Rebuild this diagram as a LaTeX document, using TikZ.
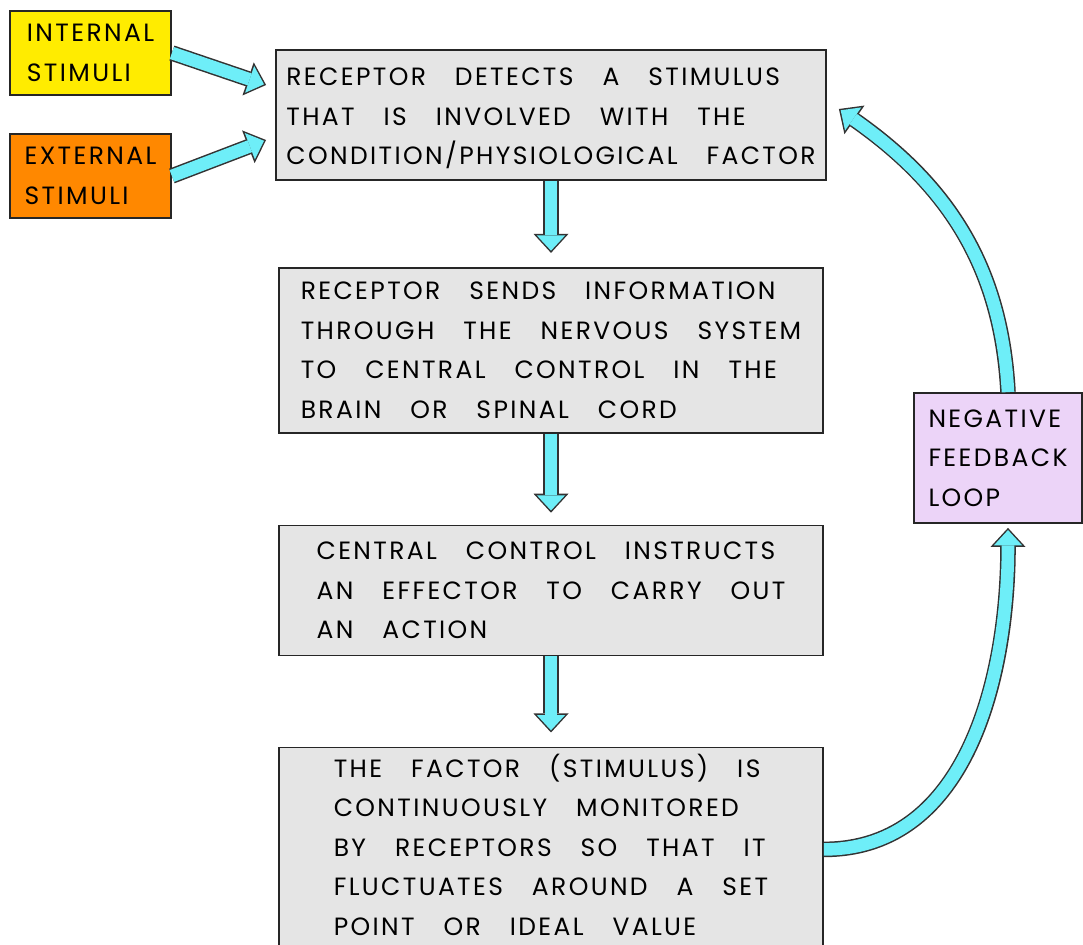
\documentclass[tikz,border=0pt]{standalone}
\usepackage{fontspec}
\setmainfont{Poppins}[WordSpace=3.2,LetterSpace=9.5]
\usetikzlibrary{positioning}
\usetikzlibrary{arrows.meta}

\definecolor{arrowcyan}{RGB}{110,238,248}
\definecolor{boxgray}{RGB}{229,229,229}
\definecolor{stimyellow}{RGB}{255,236,0}
\definecolor{stimorange}{RGB}{255,136,0}
\definecolor{looplilac}{RGB}{236,212,248}

% fat outlined arrow: dark pass first, cyan pass on top
\newcommand{\flowarrow}[2][0pt]{%
	\draw[flow edge=#1] #2;
	\draw[flow fill=#1] #2;}

\begin{document}
\begin{tikzpicture}[x=0.5pt,y=0.5pt,
	flow edge/.style={draw=black!80,line width=7.8pt,shorten >=#1,
		-{Triangle[length=9.5pt,width=17.5pt,line width=0pt]}},
	flow edge/.default=0pt,
	flow fill/.style={draw=arrowcyan,line width=6.3pt,shorten >=#1+1.1pt,
		-{Triangle[length=7.6pt,width=14.1pt,line width=0pt]}},
	flow fill/.default=0pt]
	
	\tikzstyle{stage}=[rectangle,draw=black!85,line width=0.9pt,fill=boxgray,align=left,
	minimum width=272pt,inner sep=0pt,font=\fontsize{12.5pt}{19.75pt}\selectfont]
	\tikzstyle{tag}=[stage,minimum width=80.5pt,minimum height=42pt]
	\tikzstyle{yellow tag}=[tag,fill=stimyellow]
	\tikzstyle{orange tag}=[tag,fill=stimorange]
	\tikzstyle{lilac tag}=[tag,fill=looplilac,minimum width=84pt,minimum height=65pt]
	
	\useasboundingbox (0,0) rectangle (1083,944);
	
	% Stimuli:
	\node [yellow tag] at (90.5,891) (internal) {INTERNAL\\STIMULI};
	\node [orange tag] at (90.5,768) (external) {EXTERNAL\\STIMULI};
	
	% Main chain:
	\node [stage,minimum width=275pt,minimum height=65pt] at (551,829) (detect)
	{\rule{0pt}{12.5pt}RECEPTOR DETECTS A STIMULUS\\THAT IS INVOLVED WITH THE\\CONDITION/PHYSIOLOGICAL FACTOR};
	\node [stage,minimum height=82.5pt,below=43pt of detect] (send)
	{RECEPTOR SENDS INFORMATION\\THROUGH THE NERVOUS SYSTEM\\TO CENTRAL CONTROL IN THE\\BRAIN OR SPINAL CORD};
	\node [stage,minimum height=65pt,below=45.5pt of send] (instruct)
	{CENTRAL CONTROL INSTRUCTS\\AN EFFECTOR TO CARRY OUT\\AN ACTION};
	\node [stage,minimum height=102pt,below=45pt of instruct] (monitor)
	{THE FACTOR (STIMULUS) IS\\CONTINUOUSLY MONITORED\\BY RECEPTORS SO THAT IT\\FLUCTUATES AROUND A SET\\POINT OR IDEAL VALUE\rule[-5pt]{0pt}{5pt}};
	
	\node [lilac tag] at (998,486) (loop) {NEGATIVE\\FEEDBACK\\LOOP};
	
	\coordinate (intip) at ([xshift=-4.5pt,yshift=15pt]detect.west);
	\coordinate (extip) at ([xshift=-4.5pt,yshift=-12.5pt]detect.west);
	\coordinate (looptip) at ([xshift=6pt,yshift=3pt]detect.east);
	
	\flowarrow{(internal.east) -- (intip)}
	\flowarrow{(external.east) -- (extip)}
	\flowarrow[7pt]{(detect.south) -- (send.north)}
	\flowarrow[6pt]{(send.south) -- (instruct.north)}
	\flowarrow[7pt]{(instruct.south) -- (monitor.north)}
	\flowarrow[2pt]{(monitor.east) to[out=0,in=-90] ([xshift=5pt]loop.south)}
	\flowarrow{([xshift=5pt]loop.north) to[out=93,in=-35] (looptip)}
	
\end{tikzpicture}
\end{document}
